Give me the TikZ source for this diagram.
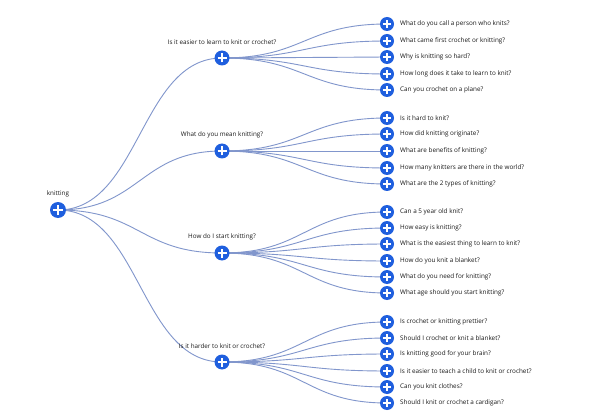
\documentclass[tikz,border=0pt]{standalone}
\usepackage{fontspec}
\setmainfont{Open Sans}
\usetikzlibrary{calc}
\definecolor{nodeblue}{HTML}{1F5FDE}
\definecolor{linkblue}{HTML}{8196CC}
\definecolor{txt}{HTML}{1A1A1A}
\tikzset{
  plusnode/.style={circle, fill=nodeblue, minimum size=#1, inner sep=0pt,
    path picture={\draw[white, line width=1.7pt]
      ([xshift=-0.3*#1]path picture bounding box.center) -- ([xshift=0.3*#1]path picture bounding box.center)
      ([yshift=-0.3*#1]path picture bounding box.center) -- ([yshift=0.3*#1]path picture bounding box.center);}},
  leaf/.style={plusnode=14pt},
  mid/.style={plusnode=15pt},
  rootn/.style={plusnode=16pt},
  leaflabel/.style={anchor=west, font=\fontsize{6.35}{7}\selectfont, text=txt, inner sep=0pt},
  midlabel/.style={font=\fontsize{6.3}{7}\selectfont, text=txt, inner sep=0pt},
  link/.style={draw=linkblue, line width=0.9pt}
}
\newcommand{\hlink}[2]{%
  \path let \p1=(#1.center), \p2=(#2.center) in
    [link] (\p1) .. controls ({0.5*\x1+0.5*\x2},\y1) and ({0.5*\x1+0.5*\x2},\y2) .. (\p2);}
\begin{document}
\begin{tikzpicture}[x=1pt,y=-1pt]
\useasboundingbox[fill=white] (0,0) rectangle (600,417);
% coordinates
\coordinate (r) at (58,210);
\coordinate (m1) at (222,58);
\coordinate (m2) at (222,151);
\coordinate (m3) at (222,253);
\coordinate (m4) at (222,362);
\foreach \i/\y in {1/24,2/41,3/57,4/74,5/90,
                   6/118,7/134,8/151,9/168,10/184,
                   11/212,12/228,13/244,14/261,15/277,16/293,
                   17/322,18/338,19/354,20/371,21/387,22/403}
  \coordinate (l\i) at (387,\y);
% links
\foreach \m in {m1,m2,m3,m4} {\hlink{r}{\m}}
\foreach \i in {1,...,5} {\hlink{m1}{l\i}}
\foreach \i in {6,...,10} {\hlink{m2}{l\i}}
\foreach \i in {11,...,16} {\hlink{m3}{l\i}}
\foreach \i in {17,...,22} {\hlink{m4}{l\i}}
% nodes
\node[rootn] (R) at (r) {};
\node[midlabel] (tR) at (58,194) {knitting};
\foreach \m/\t/\ty in {m1/Is it easier to learn to knit or crochet?/42,
                      m2/What do you mean knitting?/135,
                      m3/How do I start knitting?/237,
                      m4/Is it harder to knit or crochet?/346} {
  \node[mid] (N\m) at (\m) {};
  \node[midlabel] (T\m) at (222,\ty) {\t};
}
\foreach \i/\t in {1/What do you call a person who knits?,
                   2/What came first crochet or knitting?,
                   3/Why is knitting so hard?,
                   4/How long does it take to learn to knit?,
                   5/Can you crochet on a plane?,
                   6/Is it hard to knit?,
                   7/How did knitting originate?,
                   8/What are benefits of knitting?,
                   9/How many knitters are there in the world?,
                   10/What are the 2 types of knitting?,
                   11/Can a 5 year old knit?,
                   12/How easy is knitting?,
                   13/What is the easiest thing to learn to knit?,
                   14/How do you knit a blanket?,
                   15/What do you need for knitting?,
                   16/What age should you start knitting?,
                   17/Is crochet or knitting prettier?,
                   18/Should I crochet or knit a blanket?,
                   19/Is knitting good for your brain?,
                   20/Is it easier to teach a child to knit or crochet?,
                   21/Can you knit clothes?,
                   22/Should I knit or crochet a cardigan?} {
  \node[leaf] (L\i) at (l\i) {};
  \node[leaflabel] (TL\i) at ([xshift=13pt]l\i) {\t};
}
\end{tikzpicture}
\end{document}
